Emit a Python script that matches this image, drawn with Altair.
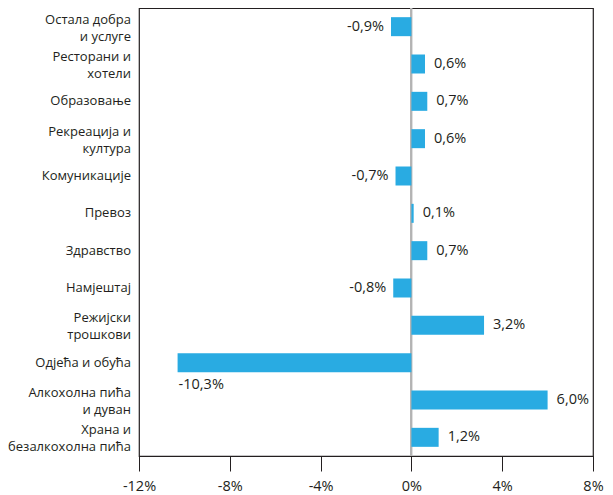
import altair as alt
import pandas as pd

categories = [
    "Остала добра|и услуге",
    "Ресторани и|хотели",
    "Образовање",
    "Рекреација и|култура",
    "Комуникације",
    "Превоз",
    "Здравство",
    "Намјештај",
    "Режијски|трошкови",
    "Одјећа и обућа",
    "Алкохолна пића|и дуван",
    "Храна и|безалкохолна пића",
]
values = [-0.9, 0.6, 0.7, 0.6, -0.7, 0.1, 0.7, -0.8, 3.2, -10.3, 6.0, 1.2]
x_ticks = [-12, -8, -4, 0, 4, 8]

df = pd.DataFrame({"cat": categories, "v": values})

FONT = "Open Sans"
BAR = "#29abe2"
INK = "#231f20"

y_enc = alt.Y(
    "cat:N",
    sort=categories,
    title=None,
    axis=alt.Axis(labels=False, ticks=False, domain=False),
)

x_scale = alt.Scale(domain=[-12, 8], nice=False, zero=False)

bars = alt.Chart(df).mark_bar(color=BAR, size=19).encode(
    x=alt.X(
        "v:Q",
        scale=x_scale,
        title=None,
        axis=alt.Axis(
            values=x_ticks,
            labelExpr="datum.value + '%'",
            labelFlush=False,
            grid=False,
            tickSize=15,
            tickColor=INK,
            domainColor=INK,
            labelFont=FONT,
            labelFontSize=14.5,
            labelColor=INK,
            labelPadding=8,
        ),
    ),
    x2=alt.datum(0),
    y=y_enc,
)

lab_base = alt.Chart(df).transform_calculate(lines="split(datum.cat, '|')")
lab_style = dict(align="right", baseline="middle", font=FONT, fontSize=13, color=INK, lineHeight=17)
lab_enc = dict(x=alt.value(-8), y=alt.Y("cat:N", sort=categories), text="lines:N")

lab_one = lab_base.transform_filter("indexof(datum.cat, '|') < 0").mark_text(**lab_style).encode(**lab_enc)
lab_two = lab_base.transform_filter("indexof(datum.cat, '|') >= 0").mark_text(dy=-7, **lab_style).encode(**lab_enc)

zero = alt.Chart(df).mark_rule(color="#b3b3b3", strokeWidth=1.3).encode(x=alt.datum(0))

base_text = alt.Chart(df).transform_calculate(
    lbl="(datum.v < 0 ? '-' : '') + replace(format(abs(datum.v), '.1f'), '.', ',') + '%'"
)

tx = dict(font=FONT, fontSize=14.5, color=INK, baseline="middle")
enc = dict(x=alt.X("v:Q", scale=x_scale), y=alt.Y("cat:N", sort=categories), text="lbl:N")

pos = base_text.transform_filter("datum.v >= 0").mark_text(align="left", dx=9, **tx).encode(**enc)
neg = base_text.transform_filter("datum.v < 0 && datum.v > -5").mark_text(align="right", dx=-7, **tx).encode(**enc)
big = base_text.transform_filter("datum.v <= -5").mark_text(align="left", dx=1, dy=22, **tx).encode(**enc)

chart = (
    alt.layer(zero, bars, pos, neg, big, lab_one, lab_two)
    .properties(
        width=454,
        height=448,
        autosize=alt.AutoSizeParams(type="none"),
        padding={"left": 131, "top": 0, "right": 12, "bottom": 40},
    )
    .configure_view(stroke=INK, strokeWidth=1.2)
)

chart.save("out.html", embed_options={"renderer": "svg", "actions": False})
